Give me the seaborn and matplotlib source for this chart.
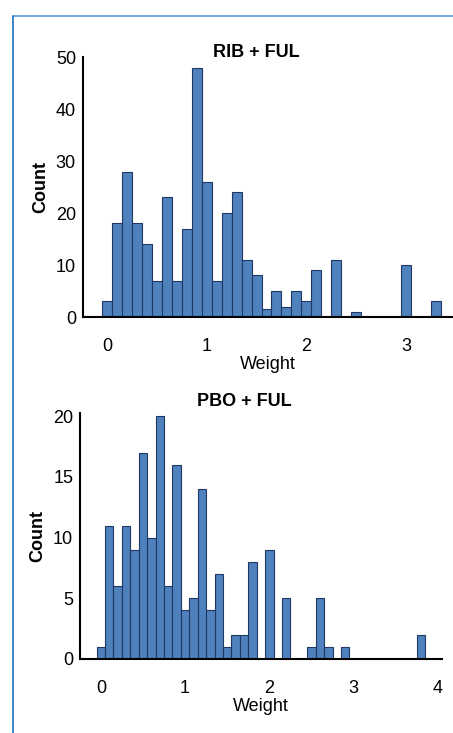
import numpy as np
import matplotlib
matplotlib.use("Agg")
import matplotlib.pyplot as plt
import seaborn as sns
from matplotlib.lines import Line2D

# bin centres (Weight) and counts
rib_weight = [round(0.1 * i, 1) for i in range(34)]
rib_count = [3, 18, 28, 18, 14, 7, 23, 7, 17, 48,
             26, 7, 20, 24, 11, 8, 1.5, 5, 2, 5,
             3, 9, 0, 11, 0, 1, 0, 0, 0, 0,
             10, 0, 0, 3]

pbo_weight = [round(0.1 * i, 1) for i in range(39)]
pbo_count = [1, 11, 6, 11, 9, 17, 10, 20, 6, 16,
             4, 5, 14, 4, 7, 1, 2, 2, 8, 0,
             9, 0, 5, 0, 0, 1, 5, 1, 0, 1,
             0, 0, 0, 0, 0, 0, 0, 0, 2]

panels = [
    ("RIB + FUL", rib_weight, rib_count, [0, 1, 2, 3], [0, 10, 20, 30, 40, 50]),
    ("PBO + FUL", pbo_weight, pbo_count, [0, 1, 2, 3, 4], [0, 5, 10, 15, 20]),
]

sns.set_style("white")
plt.rcParams['font.family'] = ['Liberation Sans', 'DejaVu Sans']
plt.rcParams.update({"text.color": "black", "axes.labelcolor": "black",
                     "xtick.color": "black", "ytick.color": "black"})

fig = plt.figure(figsize=(4.53, 7.33), dpi=100)
ax_top = fig.add_axes([0.183, 0.5675, 0.815, 0.3545])
ax_bot = fig.add_axes([0.177, 0.101, 0.799, 0.336])

limits = [((-0.24, 3.46), (0, 50), 0.47, 0),
          ((-0.245, 4.05), (0, 20.3), 0.453, 5)]

for ax, (title, w, c, xt, yt), (xl, yl, tx, tpad) in zip([ax_top, ax_bot], panels, limits):
    last = w[-1]
    sns.histplot(x=w, weights=c, binwidth=0.1, binrange=(-0.05, last + 0.05),
                 color="#4f81bd", alpha=1, edgecolor="#1f3864", linewidth=0.8, ax=ax)
    ax.set_xlim(*xl)
    ax.set_ylim(*yl)
    ax.set_xticks(xt)
    ax.set_yticks(yt)
    ax.tick_params(length=0, labelsize=13)
    ax.tick_params(axis="x", pad=15)
    ax.tick_params(axis="y", pad=5)
    for s in ["top", "right"]:
        ax.spines[s].set_visible(False)
    for s in ["left", "bottom"]:
        ax.spines[s].set_color("black")
        ax.spines[s].set_linewidth(1.5)
    ax.set_xlabel("Weight", fontsize=13, labelpad=1)
    ax.set_ylabel("Count", fontsize=13, fontweight="bold", labelpad=5)
    ax.set_title(title, fontsize=13, fontweight="bold", x=tx, pad=tpad)

# thin blue frame on top and left
fig.add_artist(Line2D([12.5 / 453, 1], [1 - 15.5 / 733, 1 - 15.5 / 733],
                      color="#5b9bd5", linewidth=1.2, transform=fig.transFigure))
fig.add_artist(Line2D([12.5 / 453, 12.5 / 453], [0, 1 - 15.5 / 733],
                      color="#1f6fc0", linewidth=1.2, transform=fig.transFigure))

fig.savefig("out.png", dpi=100)
